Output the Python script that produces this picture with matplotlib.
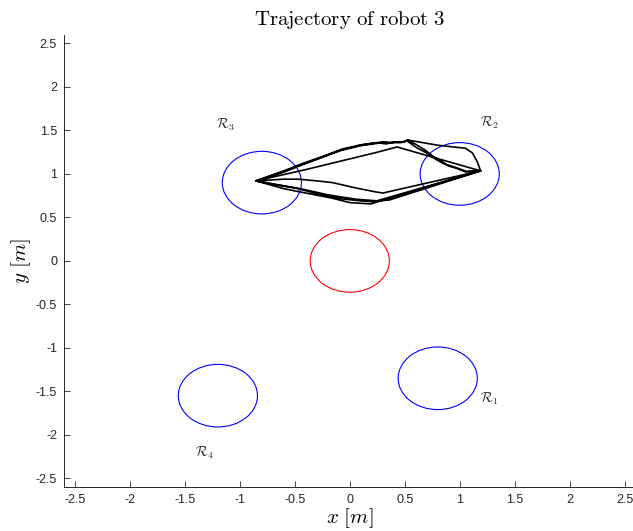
import numpy as np
import matplotlib.pyplot as plt
from matplotlib.patches import Circle

plt.rcParams['font.family'] = ['Liberation Sans', 'DejaVu Sans']
plt.rcParams['mathtext.fontset'] = 'cm'

# regions (centre x, centre y) and the obstacle in the middle
region_x = [0.8, 1.0, -0.8, -1.2]
region_y = [-1.35, 1.0, 0.9, -1.55]
region_names = [r'$\mathcal{R}_1$', r'$\mathcal{R}_2$', r'$\mathcal{R}_3$', r'$\mathcal{R}_4$']
label_x = [1.27, 1.27, -1.13, -1.32]
label_y = [-1.59, 1.59, 1.57, -2.21]
obstacle_x, obstacle_y = 0.0, 0.0
radius = 0.36

# trajectory of robot 3 (several laps between R3 and R2)
traj_x = [-0.853, -0.60, -0.445, -0.25, -0.08, 0.10, 0.236, 0.30, 0.36, 0.445, 0.50, 0.526,
          0.60, 0.69, 0.76, 0.844, 0.90, 0.962, 1.053, 1.19,
          0.30, 0.236, 0.05, -0.157, -0.30, -0.463, -0.60, -0.717, -0.853,
          -0.40, 0.236, 0.43, 1.19,
          0.218, 0.10, -0.05, -0.19, -0.35, -0.49, -0.70, -0.853,
          -0.60, -0.44, -0.25, -0.07, 0.10, 0.24, 0.33, 0.40, 0.47, 0.526,
          0.80, 1.053, 1.116, 1.16, 1.19,
          0.19, 0.00, -0.17, -0.40, -0.60, -0.853,
          -0.60, -0.44, -0.25, -0.08, 0.10, 0.24, 0.32, 0.40, 0.47, 0.52,
          0.61, 0.70, 0.78, 0.85, 0.95, 1.06, 1.19,
          0.36, 0.25, 0.05, -0.20, -0.45, -0.853]
traj_y = [0.92, 1.02, 1.10, 1.19, 1.276, 1.33, 1.356, 1.37, 1.36, 1.368, 1.37, 1.39,
          1.34, 1.27, 1.20, 1.138, 1.09, 1.069, 1.023, 1.035,
          0.78, 0.793, 0.84, 0.90, 0.92, 0.939, 0.94, 0.93, 0.92,
          1.05, 1.245, 1.31, 1.035,
          0.68, 0.69, 0.71, 0.74, 0.79, 0.836, 0.88, 0.92,
          1.035, 1.115, 1.20, 1.285, 1.335, 1.36, 1.345, 1.365, 1.36, 1.39,
          1.33, 1.295, 1.241, 1.138, 1.035,
          0.655, 0.67, 0.724, 0.78, 0.83, 0.92,
          1.03, 1.105, 1.195, 1.27, 1.325, 1.35, 1.36, 1.36, 1.365, 1.38,
          1.30, 1.24, 1.17, 1.12, 1.08, 1.03, 1.035,
          0.70, 0.69, 0.71, 0.76, 0.83, 0.92]

xticks = np.arange(-2.5, 2.51, 0.5)
yticks = np.arange(-2.5, 2.51, 0.5)


def tick_text(v):
    s = '%g' % round(v, 2)
    return '0' if s == '-0' else s


fig = plt.figure(figsize=(6.33, 5.31), dpi=100)
ax = fig.add_axes([0.1011, 0.0829, 0.903, 0.8516])

# regions and obstacle
for cx, cy in zip(region_x, region_y):
    ax.add_patch(Circle((cx, cy), radius, fill=False, ec='blue', lw=0.8))
ax.add_patch(Circle((obstacle_x, obstacle_y), radius, fill=False, ec='red', lw=0.8))

for lx, ly, name in zip(label_x, label_y, region_names):
    ax.text(lx, ly, name, fontsize=10, ha='center', va='center', color='0.15')

ax.plot(traj_x, traj_y, color='black', lw=1.2)

ax.set_xlim(-2.6, 2.6)
ax.set_ylim(-2.6, 2.6)
ax.set_xticks(xticks)
ax.set_xticklabels([tick_text(v) for v in xticks])
ax.set_yticks(yticks)
ax.set_yticklabels([tick_text(v) for v in yticks])
ax.tick_params(direction='in', length=4, width=0.6, labelsize=9, colors='0.15', pad=5)
ax.spines['top'].set_visible(False)
ax.spines['right'].set_visible(False)
for s in ['left', 'bottom']:
    ax.spines[s].set_color('0.15')
    ax.spines[s].set_linewidth(0.7)

ax.set_title(r'$\mathrm{Trajectory\ of\ robot\ 3}$', fontsize=15, pad=7)
ax.set_xlabel(r'$x\ [m]$', fontsize=15, labelpad=0)
ax.set_ylabel(r'$y\ [m]$', fontsize=15, labelpad=2)

fig.savefig('out.png', dpi=100)
